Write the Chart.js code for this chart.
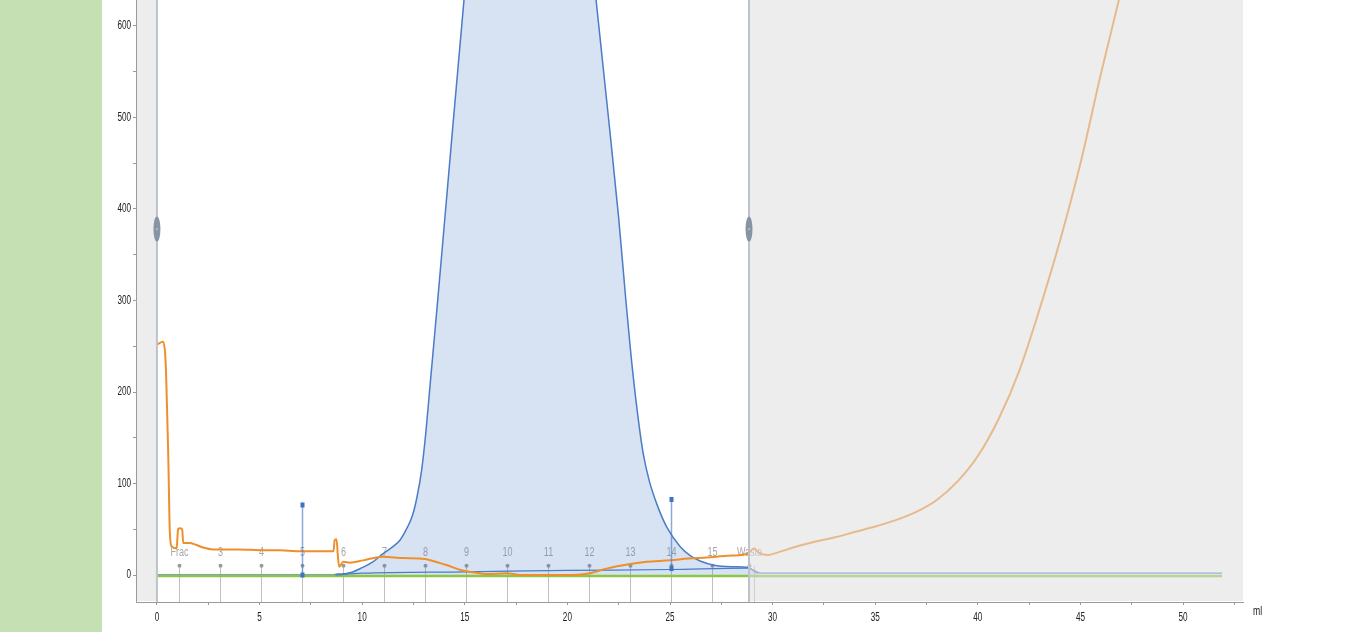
<!DOCTYPE html>
<html><head><meta charset="utf-8">
<script src="https://cdn.jsdelivr.net/npm/chart.js@4.4.1/dist/chart.umd.min.js"></script>
<style>
html,body{margin:0;padding:0;background:#fff;overflow:hidden;width:1367px;height:632px}
#strip{position:absolute;left:0;top:0;width:102px;height:632px;background:#c5e0b3}
#wrap{position:absolute;left:0;top:0;width:1367px;height:632px}
canvas{display:block}
</style></head><body>
<div id="strip"></div>
<div id="wrap"><canvas id="c" width="1367" height="632"></canvas></div>
<script>
// UV absorbance (filled peak)
const uvX = [0, 8.6, 8.8, 9.0, 9.5, 10.0, 10.5, 11.0, 11.5, 11.84, 12.2, 12.45, 12.67, 12.9, 13.1, 13.3, 13.5, 13.7, 14.3, 14.96, 15.3, 16.0, 17.5, 19.5, 20.8, 21.4, 22.0, 22.5, 22.85, 23.1, 23.4, 23.7, 24.0, 24.4, 24.85, 25.5, 26.0, 26.5, 27.1, 28.0, 28.85, 29.1, 29.3];
const uvY = [0, 0, 1, 1, 3, 8, 14, 23, 31, 38, 52, 65, 85, 115, 155, 205, 255, 305, 460, 628, 710, 820, 900, 880, 760, 628, 500, 390, 300, 240, 180, 132, 102, 75, 52, 31, 21, 15, 11, 9, 8, 4, 2];
// second blue trace (baseline)
const baseX = [8.7, 10, 15, 20, 25, 28.8, 29.1, 29.4, 51.9];
const baseY = [0, 2, 3.5, 5, 6, 7.5, 5, 2, 2];
// orange trace
const orangeX = [0, 0.3, 0.4, 0.45, 0.55, 0.63, 0.72, 0.96, 1.03, 1.09, 1.23, 1.28, 1.6, 1.9, 2.25, 2.73, 4.0, 5.2, 6.0, 6.8, 8.0, 8.6, 8.66, 8.75, 8.82, 8.88, 9.08, 9.4, 10.05, 11.0, 12.0, 13.05, 13.8, 14.1, 14.8, 15.4, 16.07, 17.04, 17.7, 18.5, 19.15, 20.3, 21.1, 21.9, 23.05, 23.86, 25.0, 25.9, 26.8, 27.8, 28.75, 29.1, 29.35, 29.8, 30.3, 31.0, 32.0, 33.0, 34.0, 35.0, 36.0, 37.0, 38.0, 39.0, 40.0, 41.0, 42.0, 43.0, 44.0, 45.0, 46.0, 47.0, 48.0];
const orangeY = [252, 255, 242, 217, 133, 46, 31, 29, 50, 51, 50, 35, 35, 33, 30, 28, 28, 27, 27, 26, 26, 26, 38, 39, 20, 9, 14.5, 13.5, 16, 20, 18.5, 17.5, 13, 11, 5.5, 3, 1, 2, 0, 0, 0, 0, 2, 7, 12, 14.5, 16, 18, 19, 21, 23, 29, 24, 22, 25, 30, 36, 41, 47, 53, 60, 69, 82, 102, 130, 170, 222, 290, 365, 450, 548, 640, 730];
// green trace
const greenX = [0, 51.9];
const greenY = [-1.2, -1.2];
// fraction marks
const fracX = [1.07, 3.07, 5.07, 7.07, 9.07, 11.07, 13.07, 15.07, 17.07, 19.07, 21.07, 23.07, 25.07, 27.07, 28.85, 29.1];
const fracLabels = ['Frac', '3', '4', '5', '6', '7', '8', '9', '10', '11', '12', '13', '14', '15', 'Waste', ''];
// injection marks
const injX = [7.07, 25.07];
const injTop = [76, 82];
const injBase = [0, 7];
// run window
const windowStart = 0;
const windowEnd = 28.85;
// axis
const xMin = -1.02, xMax = 52.92, yMin = -29.5, yMax = 628.4;
const xUnit = 'ml';

const pts = (xs, ys) => xs.map((v, i) => ({x: v, y: ys[i]}));
const FONT = "'Liberation Sans', Arial, sans-serif";

function narrowText(ctx, text, px, py, align, sx) {
  ctx.save();
  ctx.translate(px, py);
  ctx.scale(sx, 1);
  ctx.textAlign = align;
  ctx.fillText(text, 0, 0);
  ctx.restore();
}

const deco = {
  id: 'deco',
  beforeDatasetsDraw(chart) {
    const {ctx, scales: {x, y}, chartArea: a} = chart;
    ctx.save();
    ctx.font = "12px " + FONT;
    ctx.textBaseline = 'middle';
    const top = y.getPixelForValue(10);
    const ly = y.getPixelForValue(0) - 22;
    fracX.forEach((v, i) => {
      const px = Math.round(x.getPixelForValue(v)) + 0.5;
      ctx.strokeStyle = 'rgba(140,140,140,0.55)'; ctx.lineWidth = 1;
      ctx.beginPath(); ctx.moveTo(px, top); ctx.lineTo(px, a.bottom); ctx.stroke();
      if (fracLabels[i]) {
        ctx.fillStyle = '#9a9a9a';
        ctx.beginPath(); ctx.arc(px, top, 2, 0, Math.PI * 2); ctx.fill();
        ctx.fillStyle = '#a6a6a6';
        narrowText(ctx, fracLabels[i], px, ly, 'center', 0.75);
      }
    });
    ctx.restore();
  },
  afterDatasetsDraw(chart) {
    const {ctx, scales: {x, y}, chartArea: a} = chart;
    ctx.save();
    // injection marks
    injX.forEach((v, i) => {
      const px = Math.round(x.getPixelForValue(v)) + 0.5;
      const t = y.getPixelForValue(injTop[i]), b = y.getPixelForValue(injBase[i]);
      ctx.strokeStyle = 'rgba(74,124,200,0.65)'; ctx.lineWidth = 1.5;
      ctx.beginPath(); ctx.moveTo(px, t); ctx.lineTo(px, b); ctx.stroke();
      ctx.fillStyle = '#3f72c0';
      ctx.fillRect(px - 2, t - 3, 4, 5);
      ctx.fillRect(px - 2, b - 2.5, 4, 5);
    });
    // grey overlays outside run window
    ctx.fillStyle = 'rgba(222,222,222,0.55)';
    const x0 = x.getPixelForValue(windowStart), x1 = x.getPixelForValue(windowEnd);
    ctx.fillRect(a.left + 1, a.top, x0 - a.left - 1, a.bottom - a.top - 1);
    ctx.fillRect(x1, a.top, a.right - x1, a.bottom - a.top - 1);
    // window lines and handles
    [x0, x1].forEach(px => {
      ctx.strokeStyle = '#bcc3cb'; ctx.lineWidth = 2;
      ctx.beginPath(); ctx.moveTo(px, a.top); ctx.lineTo(px, a.bottom); ctx.stroke();
      const hy = y.getPixelForValue(378);
      ctx.fillStyle = '#8794a3';
      ctx.beginPath(); ctx.ellipse(px, hy, 3.5, 12.5, 0, 0, Math.PI * 2); ctx.fill();
      ctx.fillStyle = 'rgba(255,255,255,0.35)';
      ctx.fillRect(px - 1, hy - 1, 2, 2);
    });
    ctx.restore();
  },
  afterDraw(chart) {
    const {ctx, scales: {x, y}, chartArea: a} = chart;
    ctx.save();
    ctx.fillStyle = '#222';
    ctx.font = "12px " + FONT;
    ctx.textBaseline = 'middle';
    y.ticks.forEach(t => {
      if (Math.abs(t.value % 100) < 1e-6) narrowText(ctx, String(t.value), a.left - 5, y.getPixelForValue(t.value), 'right', 0.68);
    });
    x.ticks.forEach(t => {
      if (Math.abs(t.value % 5) < 1e-6) narrowText(ctx, String(t.value), x.getPixelForValue(t.value), a.bottom + 16, 'center', 0.68);
    });
    narrowText(ctx, xUnit, a.right + 10, a.bottom + 10, 'left', 0.72);
    ctx.restore();
  }
};

new Chart(document.getElementById('c'), {
  type: 'line',
  data: {
    datasets: [
      {label: 'UV', data: pts(uvX, uvY), borderColor: '#4a7cc8', borderWidth: 1.5,
       backgroundColor: 'rgba(74,124,200,0.22)', fill: 'origin', order: 4},
      {label: 'green', data: pts(greenX, greenY), borderColor: '#8dc641', borderWidth: 2.5, fill: false, order: 3},
      {label: 'base', data: pts(baseX, baseY), borderColor: '#4a7cc8', borderWidth: 1.2, fill: false, order: 2},
      {label: 'orange', data: pts(orangeX, orangeY), borderColor: '#ef8f2c', borderWidth: 2, fill: false, order: 1}
    ]
  },
  options: {
    responsive: false, animation: false, devicePixelRatio: 1,
    layout: {padding: {left: 0, right: 124, top: 0, bottom: 0}},
    elements: {point: {radius: 0, hoverRadius: 0}, line: {cubicInterpolationMode: 'monotone'}},
    plugins: {legend: {display: false}, tooltip: {enabled: false}},
    events: [],
    scales: {
      x: {
        type: 'linear', min: xMin, max: xMax,
        afterFit(s) { s.height = 30; s.paddingLeft = 0; s.paddingRight = 0; },
        border: {display: true, color: '#9a9a9a', width: 1},
        grid: {display: true, drawOnChartArea: false, drawTicks: true, tickLength: 3, tickColor: '#9a9a9a'},
        ticks: {stepSize: 2.5, includeBounds: false, autoSkip: false, maxRotation: 0, padding: 5,
          color: 'rgba(0,0,0,0)', font: {family: FONT, size: 11},
          callback: v => (Math.abs(v % 5) < 1e-6 ? String(v) : '')}
      },
      y: {
        type: 'linear', min: yMin, max: yMax,
        afterFit(s) { s.width = 136; s.paddingTop = 0; s.paddingBottom = 0; },
        border: {display: true, color: '#9a9a9a', width: 1},
        grid: {display: true, drawOnChartArea: false, drawTicks: true, tickLength: 3, tickColor: '#9a9a9a'},
        ticks: {stepSize: 50, includeBounds: false, autoSkip: false, padding: 2,
          color: 'rgba(0,0,0,0)', font: {family: FONT, size: 11},
          callback: v => (Math.abs(v % 100) < 1e-6 ? String(v) : '')}
      }
    }
  },
  plugins: [deco]
});
</script>
</body></html>
